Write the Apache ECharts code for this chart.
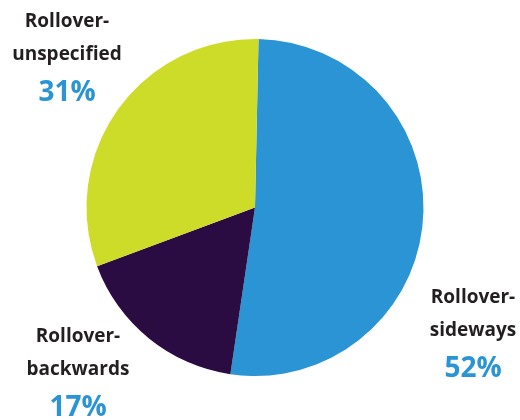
<!DOCTYPE html>
<html>
<head>
<meta charset="utf-8">
<script src="https://cdn.jsdelivr.net/npm/echarts@6/dist/echarts.min.js"></script>
<style>
  html, body { margin: 0; padding: 0; background: #ffffff; }
  #chart { width: 520px; height: 420px; }
</style>
</head>
<body>
<div id="chart"></div>
<script>
// Rollover crash types, share of total (%)
const categories = ['Rollover-sideways', 'Rollover-backwards', 'Rollover-unspecified'];
const labelLines = [['Rollover-', 'sideways'], ['Rollover-', 'backwards'], ['Rollover-', 'unspecified']];
const shares = [52, 17, 31];
const colors = ['#2B94D4', '#2A0B42', '#CDDC29'];

// Where each label block sits (centre x, top y)
const labelSpots = [
  { x: 473, y: 281 },
  { x: 78, y: 320 },
  { x: 67, y: 5 }
];

const chart = echarts.init(document.getElementById('chart'), null, { renderer: 'canvas' });

chart.setOption({
  animation: false,
  backgroundColor: '#ffffff',
  series: [{
    type: 'pie',
    center: [255, 207.5],
    radius: [0, 168.5],
    startAngle: 88.8,
    clockwise: true,
    avoidLabelOverlap: false,
    data: categories.map((name, i) => ({
      name: name,
      value: shares[i],
      itemStyle: { color: colors[i] }
    })),
    itemStyle: { borderWidth: 0 },
    label: {
      show: true,
      position: 'outside',
      fontFamily: '"Open Sans", sans-serif',
      formatter: function (p) {
        const lines = labelLines[p.dataIndex].map(t => '{n|' + t + '}');
        return lines.join('\n') + '\n{p|' + p.value + '%}';
      },
      rich: {
        n: {
          fontFamily: '"Open Sans", sans-serif',
          fontSize: 19,
          fontWeight: 'bold',
          color: '#231F20',
          lineHeight: 33,
          align: 'center'
        },
        p: {
          fontFamily: '"Open Sans", sans-serif',
          fontSize: 28,
          fontWeight: 'bold',
          color: '#2B94D4',
          lineHeight: 44,
          align: 'center'
        }
      }
    },
    labelLine: { show: false },
    labelLayout: function (params) {
      const s = labelSpots[params.dataIndex];
      return { x: s.x, y: s.y, align: 'center', verticalAlign: 'top' };
    },
    emphasis: { disabled: true }
  }]
});
</script>
</body>
</html>
